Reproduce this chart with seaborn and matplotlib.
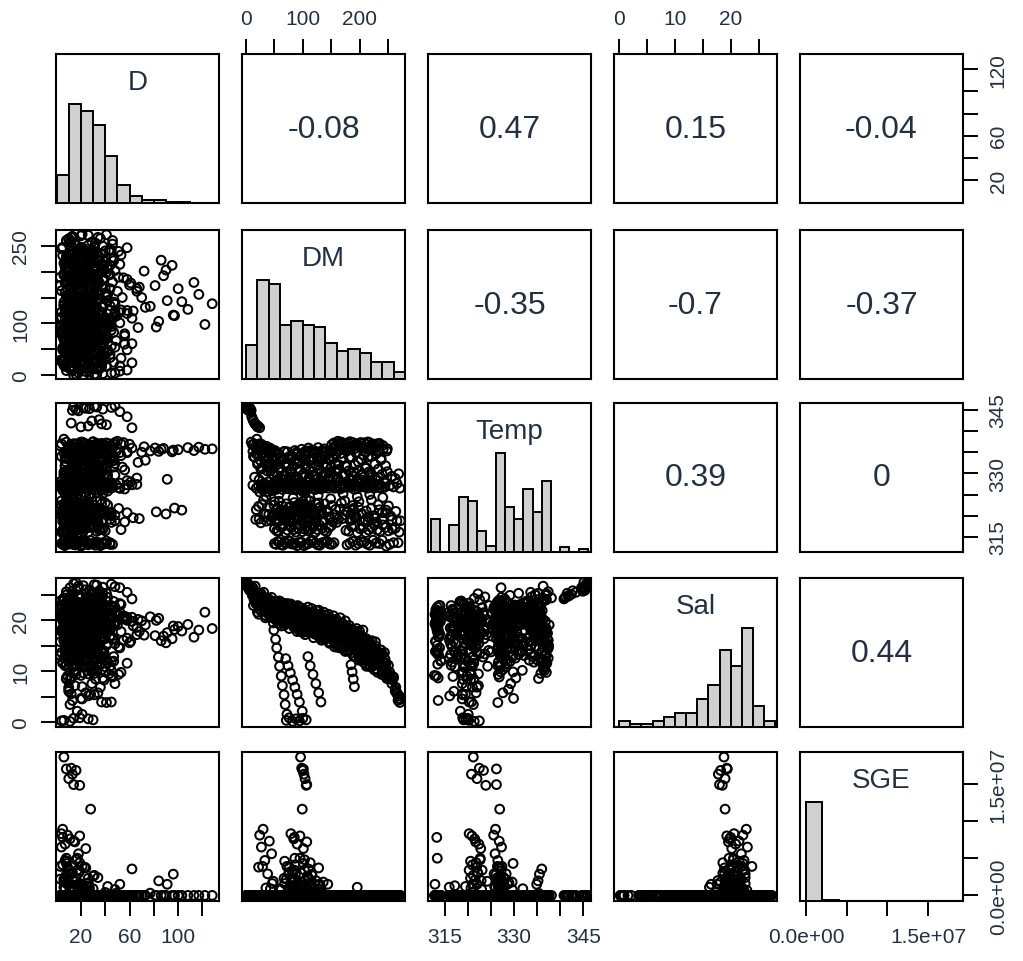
import matplotlib
matplotlib.use("Agg")
import matplotlib.pyplot as plt
from matplotlib.ticker import FixedLocator, FixedFormatter
import numpy as np
import pandas as pd
import seaborn as sns

variables = ["D", "DM", "Temp", "Sal", "SGE"]

# ---------------------------------------------------------------- samples
# one entry per sample; lines are grouped by water mass / survey
D = [
    14, 22, 31, 38, 45, 18, 27, 52, 58, 35, 12, 41, 26, 62,
    8, 19, 33, 24, 12, 41, 28, 6, 16, 37, 22, 47, 14, 30, 9, 25, 53, 18, 35, 11, 27, 44, 21, 7, 32, 15, 39, 23, 58, 13,
    17, 34, 9, 26, 45, 14, 30, 21, 62, 38, 11, 24, 49, 19, 33, 6, 28, 41, 16, 56,
    22, 36, 12, 27, 47, 18, 31, 8, 25, 39, 20, 67, 13, 29, 43, 23, 10, 35, 52, 15,
    26, 40, 19, 32, 7, 24, 46, 17, 37, 12, 29, 58, 21, 34, 9, 27, 44, 16, 31, 22,
    73, 14, 38, 25, 11, 48, 20, 33, 6, 28, 42, 18, 36, 23, 54,
    15, 29, 8, 41, 22, 35, 12, 26, 50, 18, 31, 9, 44, 21, 37, 14, 27, 60, 19, 33,
    7, 24, 46, 16, 30, 11, 39, 23, 55, 17, 34, 10, 28, 43, 20, 36, 13, 25, 48, 19,
    32, 8, 42, 22, 15, 38, 27, 52, 18, 30, 11, 40, 24, 16, 35, 21, 47, 9, 29, 14,
    37, 23, 45, 19, 31,
    26, 44, 17, 33, 12, 51, 22, 38, 15, 29, 46, 10, 34, 20, 41,
    122, 84, 62, 96, 52, 108, 77, 128, 91, 70, 117, 66, 100, 81, 113, 58, 88, 72, 95, 86,
    12, 27, 6, 40, 19, 33, 10, 25, 48, 15, 30, 8, 37, 21, 56, 13, 29, 82, 18, 44,
    9, 34, 97, 23, 63, 11, 38, 20, 103, 27, 14, 42, 7, 31, 68, 16, 35, 22, 51, 12,
    28, 90, 17, 39, 24, 8, 45, 19, 33, 13, 58, 26, 11, 36, 21,
    5, 12, 8, 18, 24, 9, 15, 31, 11, 21,
    14, 7, 22, 39, 10, 28, 45, 17,
    6, 19, 11, 26, 4, 14, 30,
    9, 33, 16, 48, 24, 37,
    13, 29, 8, 21,
    7, 22, 13, 35, 18, 5, 29, 11, 40, 16, 53, 24, 9, 31, 14, 27, 6, 38, 19, 10, 33, 21, 12, 26,
    9, 24, 15, 38, 6, 29, 5, 8, 20, 12, 44, 17, 31, 7, 23, 35, 14, 26, 10, 41, 18, 32, 8, 22, 46, 13,
    6, 12, 16, 13, 10, 19, 8, 14, 28,
    4, 11, 7, 19, 24, 15,
    5, 9, 14, 4, 18, 7, 23, 11, 16, 27,
    8, 21, 13, 34, 5, 26, 17, 42, 10, 30, 19, 48, 7, 24, 14,
    11, 29, 34, 18, 52, 22, 8, 33, 14, 38, 22, 3, 29, 15, 44, 25, 35, 10, 27, 37,
    17, 42, 25, 7, 31, 17, 37, 20, 6, 28, 13, 56, 24, 33, 13, 26, 35, 20, 41, 23,
    10, 30, 15, 40, 19, 4, 31, 12, 45, 27, 32,
    11, 29, 34, 18, 44, 22, 8, 33, 14, 38, 22, 3, 29, 15, 49, 25, 35, 10, 27, 37,
    17, 58, 25, 7, 31, 17, 37, 20, 6, 28, 13, 47, 24, 33, 13, 26, 35, 20, 41, 23,
    10, 30, 15, 40, 19, 4, 31, 12, 66, 27, 32,
    11, 29, 34, 18, 61, 22, 8, 33, 14, 38, 22, 3, 29, 15, 44, 25, 35, 10, 27, 37,
    17, 42, 25, 7, 31, 17, 37, 20, 6, 28, 13, 47, 24, 33, 13, 26, 35, 20, 53, 23,
    10, 30, 15, 40, 19, 4, 31, 12,
    7, 24, 15, 36, 10, 29, 19, 42, 5, 33, 13, 26, 21, 9, 22, 17, 39, 12, 27, 16, 45, 4, 31, 14, 28,
    20, 6, 25, 13, 34, 11, 30, 18, 40, 3, 35, 15, 24, 23, 8, 21, 16, 37, 9, 28, 20, 43, 5, 32, 12,
    12, 30, 6, 21, 38, 15, 9, 26, 18, 4, 33, 11, 24, 8, 19, 36, 14, 27, 5, 22, 16, 10,
    14, 33, 7, 25, 41, 11, 19, 36, 4, 28, 16, 44, 9, 22, 31, 6, 17, 39, 12, 26, 20, 8,
    33, 16, 48, 24, 13, 29, 37, 20,
    16, 27, 9, 33, 20, 12, 38, 24, 7, 29,
]

DM = [
    0, 1, 2, 3, 4, 5, 6, 8, 10, 12, 15, 18, 21, 24,
    9, 11, 12, 14, 15, 17, 18, 19, 21, 22, 24, 25, 27, 28, 30, 31, 33, 34, 36, 37, 39, 40, 42, 43, 45, 46, 47, 48, 49, 50,
    51, 52, 53, 55, 56, 57, 59, 60, 61, 63, 64, 65, 67, 68, 69, 71, 72, 73, 75, 76,
    77, 79, 80, 81, 83, 84, 85, 87, 88, 89, 91, 92, 93, 95, 96, 97, 99, 100, 101, 103,
    104, 105, 107, 108, 109, 111, 112, 113, 115, 116, 117, 119, 120, 121, 123, 124, 125, 127, 128, 129,
    131, 132, 133, 135, 136, 137, 139, 140, 141, 143, 144, 145, 147, 148, 150,
    151, 152, 154, 155, 156, 158, 159, 160, 162, 163, 164, 166, 167, 168, 170, 171, 172, 174, 175, 176,
    178, 179, 180, 182, 183, 184, 186, 187, 188, 190, 191, 192, 194, 195, 196, 198, 199, 200, 202, 203,
    204, 206, 207, 208, 210, 211, 212, 214, 215, 216, 218, 219, 220, 222, 223, 225, 227, 228, 230, 232,
    235, 238, 241, 245, 249,
    205, 212, 218, 226, 233, 239, 244, 249, 253, 257, 260, 263, 266, 269, 271,
    98, 104, 110, 116, 121, 127, 133, 138, 144, 150, 156, 162, 167, 173, 179, 185, 192, 201, 212, 222,
    18, 23, 28, 32, 36, 41, 45, 50, 54, 58, 63, 67, 71, 76, 80, 84, 89, 93, 97, 102,
    106, 110, 115, 119, 124, 128, 133, 137, 142, 146, 151, 156, 160, 165, 170, 174, 179, 184, 189, 193,
    198, 203, 207, 212, 216, 221, 226, 230, 235, 240, 246, 251, 257, 264, 272,
    49, 52, 54, 57, 59, 62, 64, 67, 69, 72,
    70, 74, 78, 82, 86, 90, 94, 99,
    71, 76, 82, 88, 94, 100, 106,
    109, 113, 118, 123, 128, 132,
    185, 187, 189, 191,
    50, 57, 65, 73, 80, 88, 95, 103, 110, 118, 126, 134, 142, 150, 176, 186, 196, 206, 216, 226, 236, 246, 258, 270,
    50, 56, 62, 68, 74, 80, 85, 86, 90, 98, 106, 114, 122, 130, 139, 147, 155, 178, 188, 198, 208, 218, 229, 240, 253, 268,
    96, 98, 100, 102, 104, 106, 101, 107, 99,
    79, 84, 90, 95, 101, 107,
    30, 24, 41, 27, 45, 33, 22, 38, 48, 35,
    68, 72, 76, 81, 86, 91, 95, 99, 103, 108, 113, 118, 123, 128, 133,
    12, 13, 15, 16, 18, 20, 21, 23, 24, 26, 27, 29, 31, 32, 34, 35, 37, 38, 40, 42,
    43, 45, 46, 48, 49, 51, 53, 54, 56, 57, 59, 60, 62, 64, 65, 67, 68, 70, 71, 73,
    75, 76, 78, 79, 81, 82, 84, 86, 87, 89, 90, 92, 93, 95, 97, 98, 100, 101, 103, 104,
    106, 108, 109, 111, 112, 114, 115, 117, 119, 120, 122, 123, 125, 126, 128, 130, 131, 133, 134, 136,
    137, 139, 141, 142, 144, 145, 147, 148, 150, 152, 153, 155, 156, 158, 159, 161, 163, 164, 166, 167,
    169, 170, 172, 174, 175, 177, 178, 180, 181, 183, 185, 186, 188, 189, 191, 192, 194, 196, 197, 199,
    200, 202, 203, 205, 207, 208, 210, 211, 213, 214, 216, 218, 219, 221, 222, 224, 225, 227, 229, 230,
    232, 233, 235, 236, 238, 240, 242, 244, 246, 248,
    17, 22, 26, 31, 35, 40, 44, 49, 53, 58, 62, 67, 71, 76, 80, 85, 89, 94, 98, 103, 107, 112, 116, 121, 125,
    130, 134, 139, 143, 148, 153, 158, 163, 168, 173, 178, 183, 188, 194, 199, 204, 210, 215, 221, 227, 233, 240, 247, 255, 266,
    54, 61, 69, 77, 84, 92, 99, 107, 114, 122, 130, 138, 146, 181, 191, 201, 211, 221, 231, 241, 251, 263,
    53, 59, 65, 71, 77, 83, 94, 102, 110, 118, 126, 134, 143, 151, 183, 193, 203, 213, 224, 235, 247, 260,
    1, 2, 4, 7, 9, 13, 16, 20,
    35, 58, 83, 104, 127, 149, 171, 196, 218, 241,
]

Temp = [
    345.8, 345.5, 345.9, 345.2, 345.6, 344.8, 345.3, 344.6, 343.4, 342.7, 341.9, 341.5, 341.2, 340.8,
    337.4, 336.8, 335.2, 337.0, 333.8, 336.3, 334.6, 338.1, 332.5, 336.6, 335.7, 333.1, 336.9, 331.4, 335.0,
    336.1, 334.2, 332.8, 336.4, 330.6, 335.4, 333.5, 336.0, 331.9, 334.8, 335.6, 329.8, 333.0, 335.1, 332.2,
    327.1, 333.2, 326.4, 329.5, 327.8, 334.6, 326.9, 331.3, 327.3, 333.7, 326.2, 328.6, 335.2, 327.6, 332.4,
    326.6, 330.2, 327.0, 333.9, 326.3, 329.1, 327.5, 334.1, 326.8, 331.7, 327.9, 333.0, 326.1, 328.3, 335.0,
    327.4, 332.6, 326.7, 330.8, 327.2, 334.4, 326.5, 329.7, 327.7, 333.4, 326.0, 331.0, 327.9, 334.8, 326.4,
    328.9, 332.9, 327.1, 335.3, 326.9, 330.4, 327.3, 333.6, 326.2, 329.3, 327.6, 334.0, 326.6, 331.9, 327.0,
    333.1, 326.3, 328.1, 335.4, 327.8, 332.3, 326.8, 330.0, 327.4, 334.5, 326.5, 329.0, 333.3, 327.2, 331.5,
    336.8, 327.0, 333.5, 337.2, 326.6, 330.7, 336.3, 327.8, 337.6, 332.1, 336.6, 326.3, 334.7, 337.4, 327.5,
    335.9, 329.4, 336.9, 326.9, 337.1, 331.6, 336.2, 327.3, 333.8, 337.5, 326.7, 336.0, 328.5, 337.3, 330.3,
    336.7, 327.1, 334.9, 337.0, 326.4, 332.7, 336.4, 327.6, 337.3, 329.8, 336.1, 326.8, 334.3, 337.2, 327.4,
    331.2, 336.8, 326.5, 333.9, 337.4, 327.9, 336.5, 330.1, 337.0, 326.9, 335.4, 336.9, 328.7, 336.3, 327.3,
    337.1, 333.2, 336.6, 327.7, 335.8,
    328.4, 326.9, 329.6, 327.5, 329.1, 326.6, 328.2, 330.4, 327.1, 329.3, 326.8, 328.8, 327.6, 329.9, 326.5,
    335.7, 335.2, 336.0, 335.5, 334.9, 336.1, 335.3, 335.8, 328.6, 335.0, 336.2, 328.9, 335.6, 336.0, 335.4,
    328.3, 335.9, 336.3, 335.1, 335.7,
    321.4, 319.2, 322.6, 320.5, 318.7, 321.9, 319.6, 323.3, 320.1, 318.9, 321.2, 319.4, 322.8, 320.7, 318.5,
    321.6, 319.8, 320.9, 322.2, 319.1, 321.0, 318.6, 321.8, 320.3, 319.5, 323.0, 320.6, 318.8, 321.3, 319.7,
    322.4, 320.2, 318.4, 321.5, 319.3, 323.5, 320.8, 318.9, 321.7, 319.9, 322.0, 320.4, 318.7, 321.1, 319.6,
    323.7, 320.0, 318.5, 321.4, 319.2, 320.7, 322.3, 319.0, 321.0, 318.8,
    320.4, 319.1, 321.7, 318.6, 320.9, 319.8, 322.3, 318.9, 321.2, 320.1,
    319.3, 321.0, 318.7, 320.6, 322.0, 319.5, 320.8, 318.4,
    320.2, 318.9, 321.4, 319.6, 322.5, 320.0, 319.1,
    321.1, 319.4, 320.7, 318.8, 321.8, 320.3,
    320.5, 319.0, 321.3, 319.7,
    316.9, 316.3, 317.5, 316.6, 317.2, 316.1, 317.7, 316.8, 316.4, 317.3, 316.7, 317.0, 316.2, 317.6,
    316.5, 317.4, 316.0, 317.1, 316.6, 317.8, 316.3, 317.2, 316.8, 316.1,
    313.4, 313.9, 313.1, 313.6, 314.1, 313.3, 313.3, 313.4, 312.9, 313.7, 313.2, 314.0, 313.5, 313.0,
    313.8, 313.3, 313.6, 313.1, 313.9, 313.4, 313.7, 313.0, 313.5, 314.2, 313.2, 313.6,
    321.2, 322.5, 323.4, 320.8, 322.0, 323.9, 326.2, 326.2, 326.9,
    320.3, 321.5, 322.4, 320.9, 322.8, 321.7,
    326.0, 325.6, 326.8, 327.3, 325.9, 326.5, 327.0, 325.7, 326.3, 327.4,
    320.6, 326.4, 322.1, 327.8, 321.0, 328.9, 322.7, 325.8, 320.3, 327.1, 321.8, 329.6, 322.9, 326.7, 321.3,
    327.2, 334.0, 329.1, 336.3, 326.5, 332.2, 334.6, 328.5, 337.0, 331.0,
    326.6, 327.4, 333.6, 329.8, 335.8, 326.7, 331.8, 335.3, 328.0, 335.8,
    330.6, 327.3, 326.9, 333.8, 329.4, 335.4, 326.2, 332.0, 334.9, 328.7,
    332.8, 330.8, 326.9, 327.6, 333.3, 329.6, 335.2, 326.9, 331.5, 335.1,
    328.3, 333.5, 330.3, 327.1, 327.2, 334.0, 329.1, 335.4, 326.5, 332.2,
    334.6, 328.5, 333.1, 331.0, 326.6, 327.4, 333.6, 329.8, 334.9, 326.7,
    331.8, 335.3, 328.0, 333.3, 330.6, 327.3, 326.9, 333.8, 329.4, 335.4,
    326.2, 332.0, 334.9, 328.7, 332.8, 330.8, 326.9, 327.6, 333.3, 329.6,
    335.2, 326.9, 331.5, 335.1, 328.3, 333.5, 330.3, 327.1, 327.2, 334.0,
    329.1, 336.3, 326.5, 332.2, 334.6, 328.5, 337.0, 331.0, 326.6, 327.4,
    333.6, 329.8, 335.8, 326.7, 331.8, 335.3, 328.0, 337.2, 330.6, 327.3,
    326.9, 333.8, 329.4, 336.5, 326.2, 332.0, 334.9, 328.7, 336.7, 330.8,
    326.9, 327.6, 333.3, 329.6, 336.1, 326.9, 331.5, 335.1, 328.3, 337.4,
    330.3, 327.1, 327.2, 334.0, 329.1, 336.3, 326.5, 332.2, 334.6, 328.5,
    337.0, 331.0, 326.6, 327.4, 333.6, 329.8, 335.8, 326.7, 331.8, 335.3,
    319.1, 322.2, 318.3, 323.7, 320.4, 320.3, 318.8, 322.5, 318.6, 323.4, 320.1, 320.6,
    319.4, 321.9, 318.9, 323.1, 320.8, 319.5, 319.0, 322.7, 318.4, 323.5, 321.2, 320.0,
    319.6, 322.0, 318.7, 322.8, 320.9, 319.3, 318.5, 321.5, 319.2, 323.0, 320.2, 321.0,
    318.9, 322.4, 319.7, 323.3, 320.5, 319.0, 318.6, 321.8, 319.4, 322.6, 320.7, 321.3,
    319.9, 318.8,
    316.4, 317.3, 316.0, 317.6, 316.7, 317.0, 316.2, 317.4, 316.8, 316.1, 317.7, 316.5, 317.1, 316.3,
    317.5, 316.9, 316.0, 317.2, 316.6, 317.8, 316.4, 317.0,
    313.2, 313.8, 313.0, 313.5, 314.0, 313.3, 313.7, 312.9, 313.4, 314.1, 313.1, 313.6, 313.9, 313.2,
    313.5, 313.0, 313.8, 313.3, 314.2, 313.4, 312.8, 313.6,
    345.7, 345.1, 346.0, 345.4, 344.9, 342.4, 341.7, 341.0,
    324.6, 325.1, 324.2, 325.4, 324.8, 324.0, 325.2, 324.5, 325.0, 324.3,
]

Sal = [
    27.2, 26.8, 27.0, 26.5, 27.1, 26.2, 25.9, 26.4, 25.5, 25.8, 24.9, 25.3, 24.6, 24.2,
    25.6, 24.9, 25.3, 24.1, 24.6, 23.8, 25.0, 24.4, 23.5, 24.2, 22.9, 23.7, 24.0, 22.6, 23.3,
    21.9, 23.1, 22.4, 23.9, 21.6, 22.8, 21.2, 23.4, 22.1, 20.8, 23.0, 21.5, 22.5, 20.4, 21.8,
    22.3, 20.1, 23.6, 21.0, 22.9, 19.4, 21.7, 23.1, 20.6, 22.0, 19.9, 23.4, 21.3, 22.6, 20.3,
    21.8, 23.0, 19.6, 22.2, 20.8, 21.5, 23.2, 20.0, 22.4, 19.2, 21.1, 22.7, 20.5, 18.7, 21.9,
    22.9, 20.2, 18.1, 21.4, 22.5, 19.8, 20.9, 17.6, 21.6, 22.1, 19.3, 20.7, 18.4, 21.8, 22.6,
    19.0, 20.4, 17.9, 21.2, 22.3, 18.8, 20.0, 21.5, 17.3, 19.5, 21.9, 18.2, 20.6, 22.0, 17.0,
    19.1, 21.3, 16.6, 20.2, 18.5, 21.6, 16.2, 19.7, 20.9, 17.7, 19.0, 21.2, 15.8, 18.3, 20.3,
    19.8, 16.4, 20.9, 17.5, 14.8, 18.9, 20.2, 16.0, 19.1, 15.3, 18.2, 20.5, 17.0, 14.5, 19.4,
    16.8, 18.0, 15.6, 19.9, 17.3, 14.1, 18.6, 16.3, 19.0, 15.0, 17.8, 13.6, 18.3, 16.1, 14.7,
    17.6, 12.9, 16.9, 18.4, 14.3, 16.5, 12.2, 17.9, 15.4, 13.1, 16.7, 18.1, 11.8, 15.0, 13.7,
    16.3, 11.4, 14.6, 16.0, 12.6, 14.9, 10.9, 15.5, 13.2, 11.2, 14.4, 12.0, 15.8, 10.5, 13.0,
    11.6, 14.2, 10.2, 12.4, 9.6,
    12.4, 11.0, 12.8, 10.3, 11.9, 9.4, 10.8, 8.7, 9.9, 7.6, 8.9, 6.5, 5.8, 4.7, 3.9,
    21.6, 20.4, 19.8, 18.9, 21.0, 19.2, 20.7, 18.4, 17.6, 19.9, 18.1, 17.2, 18.8, 17.0, 16.7,
    16.5, 16.9, 17.1, 16.4, 16.0,
    24.3, 23.1, 24.0, 22.4, 23.5, 21.8, 22.9, 21.2, 22.6, 20.7, 22.1, 21.0, 19.9, 21.7, 20.3,
    19.1, 21.4, 20.0, 18.6, 20.8, 19.4, 21.1, 18.2, 20.1, 18.9, 19.7, 17.5, 19.3, 17.9, 18.4,
    16.6, 18.9, 17.2, 15.9, 17.8, 16.4, 15.2, 17.4, 14.8, 16.1, 13.7, 15.6, 14.0, 12.8, 15.3,
    13.4, 11.9, 14.1, 12.3, 10.8, 11.6, 9.5, 8.4, 6.9, 4.6,
    18.1, 16.3, 14.6, 12.8, 11.0, 9.1, 7.2, 5.4, 3.5, 1.6,
    12.5, 11.1, 9.7, 8.3, 6.9, 5.5, 4.0, 2.2,
    0.4, 0.9, 0.2, 0.7, 0.3, 0.8, 0.5,
    12.9, 11.1, 9.4, 7.6, 5.8, 4.0,
    11.3, 9.9, 8.5, 7.0,
    22.0, 21.1, 20.6, 21.9, 19.8, 20.9, 19.2, 20.3, 18.5, 19.6, 17.8, 18.9, 16.8, 17.5,
    17.0, 15.6, 16.2, 14.1, 14.8, 12.7, 13.3, 10.9, 9.0, 5.2,
    22.6, 21.4, 22.1, 20.9, 21.7, 20.2, 20.0, 19.7, 19.3, 20.4, 18.8, 19.9, 18.1, 19.2,
    17.4, 18.3, 16.9, 15.8, 14.6, 15.1, 13.2, 13.9, 11.4, 12.0, 9.1, 4.3,
    18.8, 19.3, 18.2, 17.8, 19.0, 18.5, 19.4, 18.0, 19.0,
    20.6, 19.8, 20.9, 19.3, 20.2, 19.6,
    22.8, 22.2, 21.5, 23.0, 21.9, 22.4, 21.2, 22.6, 21.7, 22.1,
    21.5, 22.0, 20.8, 21.7, 20.1, 19.4, 20.5, 18.9, 19.8, 20.7, 18.6, 19.3, 17.7, 18.9, 17.3,
    26.4, 22.9, 24.9, 26.7, 23.3, 21.6, 25.0, 23.6, 25.2, 25.3, 21.7, 23.8, 25.5, 22.1, 20.5, 23.9, 22.5, 24.1, 24.2, 20.6,
    22.7, 24.5, 21.1, 19.5, 23.0, 21.6, 23.2, 23.4, 19.9, 22.0, 23.8, 20.5, 18.9, 22.3, 21.0, 22.6, 22.9, 19.3, 21.5, 23.3,
    19.9, 18.4, 21.8, 20.4, 22.1, 22.3, 18.7, 20.9, 22.7, 19.3, 17.8, 21.2, 19.9, 21.5, 21.7, 18.2, 20.3, 22.2, 18.8, 17.2,
    20.7, 19.3, 20.9, 21.2, 17.6, 19.7, 21.6, 18.2, 16.6, 20.1, 18.7, 20.4, 20.6, 17.1, 19.2, 21.0, 17.7, 16.1, 19.5, 18.2,
    19.8, 20.0, 16.5, 18.6, 20.4, 17.1, 15.5, 19.0, 17.6, 19.2, 19.4, 15.8, 17.9, 19.7, 16.4, 14.7, 18.1, 16.8, 18.3, 18.6,
    15.0, 17.1, 18.9, 15.5, 13.9, 17.3, 15.9, 17.5, 17.7, 14.1, 16.2, 18.0, 14.6, 13.1, 16.4, 15.1, 16.7, 16.8, 13.3, 15.4,
    17.2, 13.7, 12.2, 15.5, 14.0, 15.7, 15.8, 12.2, 14.3, 16.1, 12.6, 11.0, 14.4, 12.9, 14.5, 14.7, 11.1, 13.1, 14.9, 11.5,
    9.8, 13.3, 11.8, 13.4, 13.5, 9.9, 11.9, 13.7, 10.2, 8.6,
    23.3, 25.2, 23.7, 24.6, 20.9, 23.4, 21.7, 20.7, 23.8, 21.5, 22.6, 19.0, 21.8, 20.2, 19.4, 22.5, 20.2, 21.3, 17.8, 20.5,
    18.9, 18.1, 21.3, 19.0, 20.1, 16.5, 19.2, 17.6, 16.9, 20.0, 17.6, 18.6, 14.9, 17.5, 15.8, 14.9, 17.9, 15.5, 16.5, 12.8,
    15.3, 13.4, 12.4, 15.2, 12.6, 13.5, 9.5, 11.6, 8.5, 5.6,
    22.9, 20.0, 21.7, 20.2, 22.2, 21.3, 18.5, 20.1, 18.7, 20.7, 19.8, 17.0, 18.6, 15.4, 17.1, 15.9, 12.6, 13.7, 11.8, 13.3,
    11.2, 6.1,
    21.0, 22.9, 19.6, 21.7, 22.9, 20.4, 19.3, 21.2, 17.8, 19.8, 21.0, 18.3, 17.4, 19.2, 14.2, 15.9, 16.8, 13.7, 12.2, 13.5,
    9.2, 8.7,
    26.9, 27.4, 26.6, 26.0, 25.7, 25.1, 24.7, 24.4,
    22.9, 21.3, 20.2, 19.4, 19.6, 17.2, 16.9, 14.1, 13.8, 11.0,
]

SGE = [
    0, 0, 0, 0, 0, 0, 0, 0, 0, 0, 0, 0, 0, 0,
    0, 0, 0, 0, 0, 0, 0, 0, 0, 0, 0, 0, 0, 0, 0, 0, 0, 0, 0, 0, 0, 0, 0, 9e5, 0, 0, 0, 0, 0, 0,
    0, 0, 0, 0, 0, 0, 9e5, 0, 0, 0, 0, 0, 0, 1.6e6, 0, 2.2e6, 0, 0, 0, 0,
    0, 0, 0, 6e5, 0, 1.3e6, 0, 2.8e6, 0, 0, 7e5, 0, 0, 0, 0, 0, 1.8e6, 0, 0, 0,
    1.1e6, 0, 0, 0, 2.4e6, 0, 0, 0, 0, 5e5, 0, 0, 0, 0, 0, 0, 0, 1.4e6, 0, 0,
    0, 0, 0, 0, 0, 0, 0, 0, 0, 0, 0, 0, 0, 0, 0,
    0, 0, 0, 0, 0, 0, 0, 0, 0, 0, 0, 0, 0, 0, 0, 0, 0, 0, 0, 0,
    0, 0, 0, 0, 0, 0, 0, 0, 0, 0, 0, 0, 0, 0, 0, 0, 0, 0, 0, 0,
    0, 0, 0, 0, 0, 0, 0, 0, 0, 0, 0, 0, 0, 0, 0, 0, 0, 0, 0, 0,
    0, 0, 0, 0, 0,
    0, 0, 0, 0, 0, 0, 0, 0, 0, 0, 0, 0, 0, 0, 0,
    0, 1.96e6, 3.56e6, 2.86e6, 1.5e6, 0, 3e5, 0, 1.5e6, 0, 0, 0, 0, 0, 0, 0, 0, 0, 0, 0,
    0, 0, 0, 0, 0, 0, 0, 0, 0, 0, 0, 0, 0, 1e6, 0, 2.1e6, 0, 0, 3e6, 0,
    1.5e6, 0, 0, 0, 0, 8e5, 0, 0, 0, 0, 0, 0, 0, 0, 0, 0, 0, 0, 0, 0,
    0, 0, 0, 0, 0, 0, 0, 0, 0, 0, 0, 0, 0, 0, 0,
    0, 0, 0, 0, 0, 0, 0, 0, 0, 0,
    0, 0, 0, 0, 0, 0, 0, 0,
    0, 0, 0, 0, 0, 0, 0,
    0, 0, 0, 0, 0, 0,
    0, 0, 0, 0,
    0, 0, 0, 0, 1.3e6, 0, 0, 0, 0, 0, 0, 0, 0, 0, 0, 0, 1.1e6, 0, 0, 0, 0, 0, 0, 0,
    0, 0, 0, 0, 0, 0, 7.8e6, 5.0e6, 1.5e6, 0, 0, 0, 0, 0, 0, 0, 0, 0, 0, 0, 0, 0, 0, 0, 0, 0,
    1.86e7, 1.71e7, 1.68e7, 1.63e7, 1.57e7, 1.48e7, 1.70e7, 1.49e7, 1.16e7,
    8.3e6, 7.6e6, 6.9e6, 8.0e6, 6.3e6, 7.2e6,
    8.9e6, 8.1e6, 7.3e6, 6.5e6, 5.6e6, 4.7e6, 3.8e6, 2.9e6, 1.9e6, 1.0e6,
    4.6e6, 3.9e6, 3.1e6, 2.4e6, 4.1e6, 1.7e6, 5.0e6, 1.2e6, 3.4e6, 2.6e6, 4.4e6, 0.8e6, 2.0e6, 3.7e6, 0.5e6,
    0, 0, 0, 0, 0, 0, 0, 0, 0, 0, 0, 3.9e6, 0, 0, 0, 0, 0, 0, 0, 0,
    0, 0, 1.6e6, 0, 0, 0, 0, 0, 0, 0, 0, 0, 8e5, 0, 0, 0, 0, 0, 0, 0,
    2.9e6, 0, 0, 4e5, 3.3e6, 0, 0, 0, 0, 0, 0, 0, 0, 0, 1.1e6, 0, 0, 4.3e6, 0, 0,
    0, 0, 2.2e6, 0, 0, 3e5, 1.3e6, 0, 0, 0, 0, 0, 0, 0, 0, 0, 0, 0, 0, 1.8e6,
    0, 0, 0, 0, 0, 0, 0, 0, 0, 0, 0, 0, 0, 0, 0, 0, 0, 0, 0, 0,
    0, 0, 0, 0, 0, 0, 0, 0, 0, 0, 0, 0, 0, 0, 0, 0, 0, 0, 0, 0,
    0, 0, 0, 0, 0, 0, 0, 0, 0, 0, 0, 0, 0, 0, 0, 0, 0, 0, 0, 0,
    0, 0, 0, 0, 0, 0, 0, 0, 0, 0,
    0, 0, 0, 0, 0, 0, 0, 0, 0, 0, 0, 2.3e6, 0, 3.8e6, 0, 3.4e6, 0, 1.2e6, 0, 4.8e6,
    0, 0, 2.7e6, 0, 0, 1.5e6, 0, 0, 0, 0, 0, 0, 0, 0, 0, 0, 0, 0, 0, 0,
    0, 0, 0, 0, 0, 0, 0, 0, 0, 0,
    0, 0, 0, 0, 0, 0, 0, 0, 0, 0, 0, 0, 0, 0, 0, 0, 0, 0, 0, 0, 0, 0,
    0, 0, 0, 0, 0, 0, 0, 0, 0, 0, 0, 0, 0, 0, 0, 0, 0, 0, 0, 0, 0, 0,
    0, 0, 0, 0, 0, 0, 0, 0,
    0, 0, 1.9e6, 0, 0, 0, 0, 0, 0, 0,
]

# ------------------------------------------------------- diagonal histograms
# bar heights relative to the tallest bar of each variable
hist_edges = {
    "D": [0, 10, 20, 30, 40, 50, 60, 70, 80, 90, 100, 110, 120, 130],
    "DM": [0, 20, 40, 60, 80, 100, 120, 140, 160, 180, 200, 220, 240, 260, 280],
    "Temp": [312, 314, 316, 318, 320, 322, 324, 326, 328, 330, 332, 334, 336, 338, 340, 342, 344, 346],
    "Sal": [0, 2, 4, 6, 8, 10, 12, 14, 16, 18, 20, 22, 24, 26, 28],
    "SGE": [0, 2e6, 4e6, 6e6, 8e6, 1e7, 1.2e7, 1.4e7, 1.6e7, 1.8e7, 2e7],
}
hist_heights = {
    "D": [0.28, 1.0, 0.93, 0.785, 0.47, 0.185, 0.074, 0.027, 0.027, 0.013, 0.013, 0.003, 0.002],
    "DM": [0.34, 1.0, 0.96, 0.545, 0.58, 0.545, 0.52, 0.36, 0.28, 0.30, 0.26, 0.175, 0.175, 0.074],
    "Temp": [0.336, 0.0, 0.275, 0.554, 0.517, 0.215, 0.057, 1.0, 0.453, 0.336, 0.634, 0.40, 0.718,
             0.0, 0.05, 0.0, 0.034],
    "Sal": [0.057, 0.033, 0.033, 0.057, 0.10, 0.143, 0.143, 0.277, 0.423, 0.78, 0.617, 1.0, 0.207, 0.057],
    "SGE": [1.0, 0.01, 0.004, 0.003, 0.002, 0.001, 0.0, 0.001, 0.002, 0.001],
}

# pairwise correlations, upper triangle read row by row
corr_values = [-0.08, 0.47, 0.15, -0.04, -0.35, -0.7, -0.37, 0.39, 0, 0.44]

# ------------------------------------------------------------- axes setup
axis_limits = {
    "D": (-0.5, 133.6),
    "DM": (-7.2, 280.2),
    "Temp": (311.4, 346.65),
    "Sal": (-0.9, 28.3),
    "SGE": (-0.75e6, 1.928e7),
}
tick_values = {
    "D": [20, 40, 60, 80, 100, 120],
    "DM": [0, 50, 100, 150, 200, 250],
    "Temp": [315, 320, 325, 330, 335, 340, 345],
    "Sal": [0, 5, 10, 15, 20, 25],
    "SGE": [0, 5e6, 1e7, 1.5e7],
}
x_tick_text = {
    "D": ["20", "", "60", "", "100", ""],
    "DM": ["0", "", "100", "", "200", ""],
    "Temp": ["315", "", "", "330", "", "", "345"],
    "Sal": ["0", "", "10", "", "20", ""],
    "SGE": ["0.0e+00", "", "", "1.5e+07"],
}
y_tick_text = {
    "D": ["20", "", "60", "", "", "120"],
    "DM": ["0", "", "100", "", "", "250"],
    "Temp": ["315", "", "", "330", "", "", "345"],
    "Sal": ["0", "", "10", "", "20", ""],
    "SGE": ["0.0e+00", "", "", "1.5e+07"],
}

samples = pd.DataFrame({"D": D, "DM": DM, "Temp": Temp, "Sal": Sal, "SGE": SGE})

sns.set_style("white")
plt.rcParams["font.family"] = ["Liberation Sans", "DejaVu Sans"]

TEXT = "#243040"
W, H = 1023, 962
col_left = [56, 242, 428, 614, 800]
row_top = [55, 231, 404, 579, 753]
PW, PH = 163, 149

fig = plt.figure(figsize=(W / 100, H / 100), dpi=100)
fig.patch.set_facecolor("white")

n = len(variables)
corr_iter = iter(corr_values)
for i, rv in enumerate(variables):
    for j, cv in enumerate(variables):
        ax = fig.add_axes([col_left[j] / W, 1 - (row_top[i] + PH) / H, PW / W, PH / H])
        ax.set_facecolor("white")

        if i == j:
            hax = ax.twinx()
            edges = list(hist_edges[cv])
            bars = pd.DataFrame({
                "center": [(a + b) / 2 for a, b in zip(edges[:-1], edges[1:])],
                "height": hist_heights[cv],
            })
            sns.histplot(data=bars, x="center", weights="height", bins=edges, ax=hax,
                         color="#d0d0d0", edgecolor="black", linewidth=1.4, alpha=1.0)
            hax.set_ylim(0, 1.5)
            hax.axis("off")
            hax.text(0.5, 0.81, cv, transform=hax.transAxes, ha="center", va="center",
                     fontsize=20, color=TEXT)
        elif i > j:
            sns.scatterplot(data=samples, x=cv, y=rv, ax=ax, s=40, facecolor="none",
                            edgecolor="black", linewidth=1.45, legend=False)
        else:
            r = next(corr_iter)
            ax.text(0.5, 0.5, f"{r:g}", transform=ax.transAxes, ha="center", va="center",
                    fontsize=23, color=TEXT)

        ax.set_xlim(axis_limits[cv])
        ax.set_ylim(axis_limits[rv])
        ax.set_xlabel("")
        ax.set_ylabel("")
        for sp in ax.spines.values():
            sp.set_visible(True)
            sp.set_color("black")
            sp.set_linewidth(1.5)

        ax.xaxis.set_major_locator(FixedLocator(tick_values[cv]))
        ax.xaxis.set_major_formatter(FixedFormatter(x_tick_text[cv]))
        ax.yaxis.set_major_locator(FixedLocator(tick_values[rv]))
        ax.yaxis.set_major_formatter(FixedFormatter(y_tick_text[rv]))

        show_bottom = i == n - 1 and j % 2 == 0
        show_top = i == 0 and j % 2 == 1
        show_left = j == 0 and i % 2 == 1
        show_right = j == n - 1 and i % 2 == 0
        ax.tick_params(axis="both", which="both", direction="out", length=10.5, width=1.4,
                       pad=8, labelsize=15, color="black", labelcolor=TEXT,
                       bottom=show_bottom, labelbottom=show_bottom,
                       top=show_top, labeltop=show_top,
                       left=show_left, labelleft=show_left,
                       right=show_right, labelright=show_right)
        ax.tick_params(axis="y", labelrotation=90)
        for lbl in ax.get_yticklabels():
            lbl.set_verticalalignment("center")

fig.savefig("out.png", dpi=100, facecolor="white")
